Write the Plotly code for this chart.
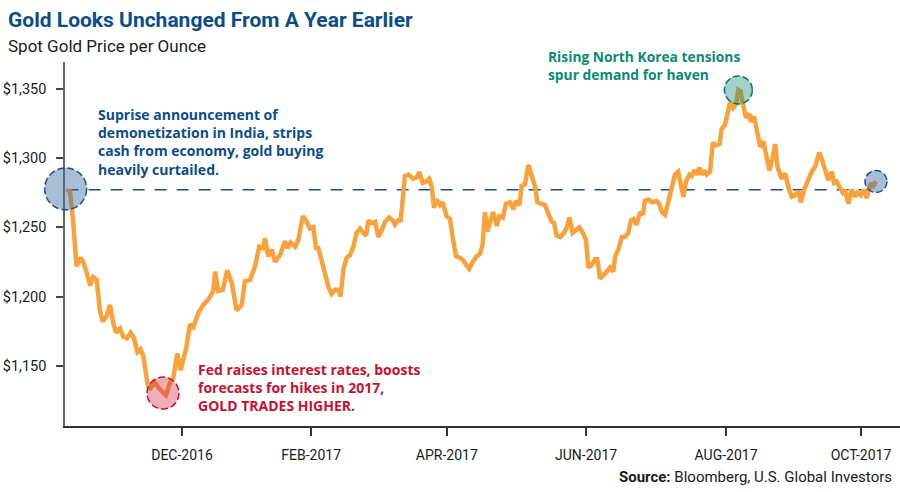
import plotly.graph_objects as go

# trading-session index and spot gold price (USD/oz)
sessions = [0.2, 1.25, 2.2, 2.8, 3.3, 4.6, 5.4, 6.5, 7.5, 8.5, 9.6, 10.6, 11.5, 12.7, 13.75, 14.8, 15.6, 16.9, 17.9, 19.0,
            20.2, 21.25, 22.3, 23.3, 24.2, 25.4, 26.0, 27.8, 29.4, 31.25, 32.5, 33.5, 34.8, 35.8, 36.7, 37.5, 38.75, 39.8, 41.3, 42.9,
            44.5, 46.0, 46.6, 47.6, 49.0, 50.4, 51.8, 53.3, 54.9, 55.9, 57.5, 59.1, 60.4, 61.5, 62.2, 63.2, 64.3, 65.3, 66.9, 68.4,
            69.2, 70.2, 71.6, 72.6, 74.0, 75.0, 76.25, 77.3, 78.1, 78.8, 79.9, 80.9, 82.0, 83.0, 84.1, 85.1, 85.8, 86.7, 87.7, 88.75,
            89.8, 90.8, 91.9, 92.9, 93.75, 94.5, 95.5, 96.6, 97.6, 98.7, 99.7, 101.0, 102.1, 102.8, 103.8, 104.6, 105.4, 105.9, 107.0, 108.5,
            109.6, 110.4, 111.5, 112.5, 113.5, 114.3, 115.0, 115.8, 116.9, 117.7, 118.95, 120.0, 120.8, 121.9, 123.1, 124.2, 125.0, 126.0, 127.1, 128.3,
            129.4, 130.2, 130.9, 131.7, 132.5, 133.5, 134.6, 135.4, 136.5, 137.5, 138.75, 139.8, 140.6, 141.7, 142.4, 143.4, 144.5, 145.5, 146.6, 147.3,
            148.7, 149.7, 150.7, 151.8, 152.5, 153.3, 154.4, 155.6, 156.5, 157.3, 158.3, 159.6, 160.4, 161.5, 162.5, 163.2, 164.3, 165.3, 166.0, 166.9,
            167.9, 169.0, 170.0, 171.0, 171.6, 172.6, 173.7, 174.7, 175.7, 176.5, 177.3, 178.3, 179.4, 180.2, 180.9, 181.9, 183.3, 184.4, 185.4, 186.2,
            187.2, 188.2, 189.3, 190.3, 191.3, 192.1, 192.9, 193.75, 194.8, 195.5, 196.25, 197.1, 197.9, 198.7, 199.4, 200.2, 201.25, 202.1, 203.1, 204.2,
            204.9, 205.9, 206.7, 207.5, 208.5, 209.4, 210.1, 210.8, 211.5, 212.5, 213.5, 214.0, 215.0, 215.8, 216.9, 217.9, 219.0, 219.8, 220.8, 221.6,
            222.3, 223.6, 224.7, 225.7, 226.8, 227.8, 228.8, 229.6, 230.6, 231.7, 233.0, 234.1, 235.4, 236.2, 237.2, 238.2, 239.3, 240.0, 240.8, 241.9,
            242.7, 243.4, 244.5, 245.5, 246.6, 247.3, 248.3, 249.2, 250.2, 250.8, 251.6, 252.3, 253.1]
prices = [1277, 1276, 1255, 1229, 1222, 1228, 1225, 1217, 1208, 1214, 1212, 1190, 1182, 1186, 1194, 1181, 1174, 1177, 1171, 1170,
          1174, 1170, 1160, 1162, 1157, 1138, 1133, 1138, 1133, 1129, 1138, 1141, 1159, 1147, 1157, 1162, 1180, 1178, 1188, 1194,
          1198, 1204, 1218, 1204, 1205, 1219, 1210, 1190, 1194, 1211, 1212, 1222, 1236, 1235, 1242, 1229, 1234, 1225, 1230, 1240,
          1235, 1239, 1236, 1241, 1258, 1255, 1249, 1250, 1235, 1235, 1226, 1217, 1207, 1202, 1205, 1205, 1200, 1220, 1228, 1230,
          1236, 1246, 1249, 1246, 1244, 1255, 1253, 1254, 1243, 1248, 1254, 1257, 1255, 1252, 1255, 1255, 1272, 1287, 1288, 1285,
          1286, 1290, 1282, 1283, 1285, 1279, 1264, 1270, 1266, 1268, 1258, 1256, 1243, 1229, 1228, 1226, 1223, 1220, 1225, 1229,
          1231, 1238, 1261, 1247, 1254, 1261, 1251, 1258, 1257, 1267, 1268, 1263, 1269, 1266, 1280, 1281, 1295, 1288, 1279, 1268,
          1267, 1266, 1260, 1254, 1253, 1244, 1243, 1246, 1250, 1257, 1246, 1249, 1250, 1246, 1241, 1221, 1223, 1227, 1227, 1213,
          1215, 1218, 1221, 1218, 1229, 1234, 1243, 1243, 1246, 1255, 1256, 1252, 1261, 1259, 1269, 1270, 1268, 1269, 1267, 1261,
          1259, 1268, 1279, 1288, 1290, 1281, 1272, 1283, 1288, 1287, 1291, 1288, 1293, 1288, 1291, 1288, 1290, 1311, 1309, 1310,
          1321, 1324, 1332, 1340, 1336, 1339, 1349, 1348, 1339, 1329, 1332, 1326, 1330, 1319, 1308, 1312, 1300, 1291, 1300, 1310,
          1294, 1285, 1289, 1279, 1272, 1273, 1276, 1268, 1277, 1284, 1290, 1294, 1304, 1299, 1290, 1284, 1290, 1282, 1283, 1279,
          1275, 1277, 1267, 1277, 1272, 1275, 1273, 1277, 1271, 1277, 1282, 1280, 1283]

tick_sessions = [36.25, 76.6, 119.0, 162.5, 206.25, 248.4]
tick_labels = ["DEC-2016", "FEB-2017", "APR-2017", "JUN-2017", "AUG-2017", "OCT-2017"]
y_ticks = [1150, 1200, 1250, 1300, 1350]
y_tick_labels = ["$1,150", "$1,200", "$1,250", "$1,300", "$1,350"]

W, H = 900, 492
L, R, T, B = 65, 0, 62, 66
PW, PH = W - L - R, H - T - B
XR = [-0.31, 260.6]
YR = [1106.7, 1369.2]


def px(xp):
    return (xp - L) / PW


def py(yp):
    return (H - B - yp) / PH


def dx(v):
    return (v - XR[0]) / (XR[1] - XR[0])


def dy(v):
    return (v - YR[0]) / (YR[1] - YR[0])


FONT = "Roboto"
AFONT = "Open Sans"
BLUE = "#0E4C85"
RED = "#C8102E"
TEAL = "#0A8A74"
ORANGE = "#F9A13A"

fig = go.Figure()
fig.add_trace(go.Scatter(x=sessions, y=prices, mode="lines",
                         line=dict(color=ORANGE, width=4.5), hoverinfo="skip"))

shapes = []
# baseline (price a year earlier)
shapes.append(dict(type="line", xref="x", yref="y", x0=sessions[0], x1=sessions[-1],
                   y0=prices[0], y1=prices[0], line=dict(color="#1B4F85", width=1.5, dash="12px,10px"),
                   layer="below"))

i_min = prices.index(min(prices))
i_max = prices.index(max(prices))


def circ(i, r, fill, edge, ox=0, oy=0):
    return dict(type="circle", xref="paper", yref="paper", xsizemode="pixel", ysizemode="pixel",
                xanchor=dx(sessions[i]), yanchor=dy(prices[i]), x0=-r + ox, x1=r + ox, y0=-r + oy, y1=r + oy,
                fillcolor=fill, line=dict(color=edge, width=1.5, dash="7px,3px"), layer="above")


shapes.append(circ(0, 21, "rgba(60,110,160,0.45)", "#1B4F85", ox=-1, oy=1))
shapes.append(circ(i_min, 16, "rgba(205,30,65,0.36)", "#C8102E", ox=-3, oy=2))
shapes.append(circ(i_max, 14, "rgba(20,140,120,0.40)", "#0A7565"))
shapes.append(circ(len(prices) - 1, 11, "rgba(60,110,160,0.45)", "#1B4F85"))

annotations = [
    dict(text="<b>Gold Looks Unchanged From A Year Earlier</b>", x=px(6), y=py(20),
         xanchor="left", yanchor="middle", font=dict(family=FONT, size=21, color=BLUE)),
    dict(text="Spot Gold Price per Ounce", x=px(6), y=py(46),
         xanchor="left", yanchor="middle", font=dict(family=FONT, size=17, color="#1a1a1a")),
    dict(text="<b>Suprise announcement of<br>demonetization in India, strips<br>cash from economy, gold buying<br>heavily curtailed.</b>",
         x=px(96), y=py(103), xanchor="left", yanchor="top", align="left",
         font=dict(family=AFONT, size=14, color=BLUE)),
    dict(text="<b>Fed raises interest rates, boosts<br>forecasts for hikes in 2017,<br>GOLD TRADES HIGHER.</b>",
         x=px(196), y=py(358), xanchor="left", yanchor="top", align="left",
         font=dict(family=AFONT, size=14, color=RED)),
    dict(text="<b>Rising North Korea tensions<br>spur demand for haven</b>",
         x=px(546), y=py(45), xanchor="left", yanchor="top", align="left",
         font=dict(family=AFONT, size=13.8, color=TEAL)),
    dict(text="<b>Source:</b> Bloomberg, U.S. Global Investors", x=px(894), y=py(477),
         xanchor="right", yanchor="middle", font=dict(family=FONT, size=15, color="#1a1a1a")),
]
for a in annotations:
    a.update(xref="paper", yref="paper", showarrow=False)

fig.update_layout(
    width=W, height=H, autosize=False,
    margin=dict(l=L, r=R, t=T, b=B, pad=0),
    paper_bgcolor="white", plot_bgcolor="white",
    showlegend=False,
    shapes=shapes, annotations=annotations,
    font=dict(family=FONT, color="#1a1a1a"),
    xaxis=dict(range=XR, tickmode="array", tickvals=tick_sessions, ticktext=tick_labels,
               showgrid=False, zeroline=False, showline=True, linecolor="#333333", linewidth=1.5,
               ticks="outside", ticklen=8, tickwidth=1.5, tickcolor="#333333",
               tickfont=dict(family=FONT, size=14, color="#1a1a1a"), ticklabelstandoff=7),
    yaxis=dict(range=YR, tickmode="array", tickvals=y_ticks, ticktext=y_tick_labels,
               showgrid=False, zeroline=False, showline=True, linecolor="#666666", linewidth=1.5,
               ticks="outside", ticklen=7, tickwidth=1.5, tickcolor="#444444",
               tickfont=dict(family=FONT, size=14.5, color="#1a1a1a"), ticklabelstandoff=7),
)

fig.write_html("out.html", config={"displayModeBar": False})
